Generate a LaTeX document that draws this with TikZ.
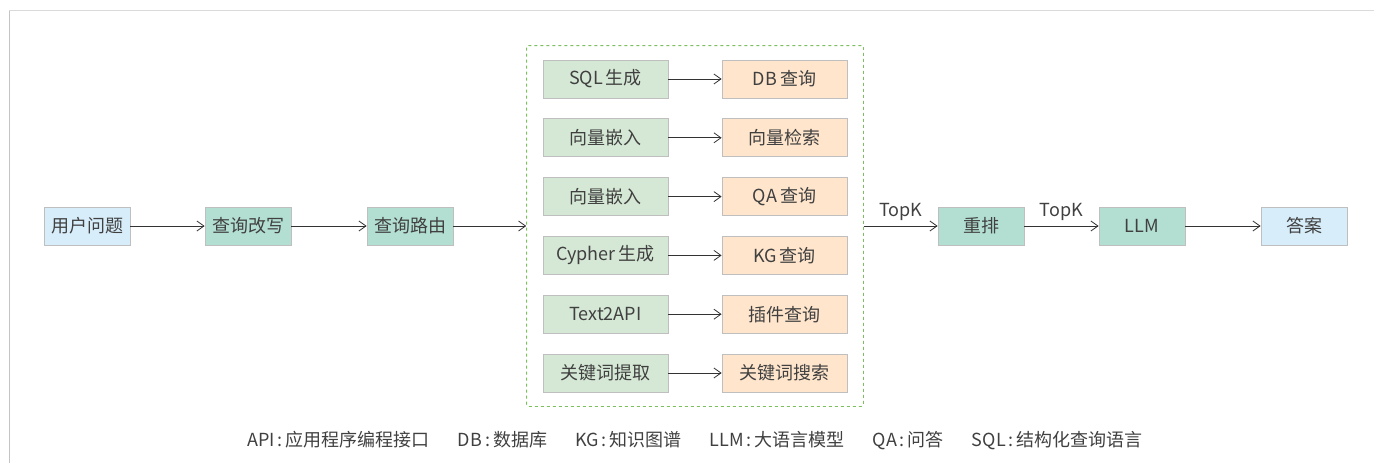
\documentclass[tikz,border=0pt]{standalone}
\usepackage{fontspec}
\setmainfont{Noto Sans CJK SC}
\usetikzlibrary{arrows.meta, positioning, fit}

\definecolor{framegray}{HTML}{C4C4C4}
\definecolor{toplinegray}{HTML}{DADADA}
\definecolor{boxgray}{HTML}{BFBFBF}
\definecolor{bluefill}{HTML}{D7EDFA}
\definecolor{tealfill}{HTML}{B3DFD2}
\definecolor{greenfill}{HTML}{D5E8D5}
\definecolor{orangefill}{HTML}{FFE5CC}
\definecolor{dashgreen}{HTML}{7DBF5E}
\definecolor{textgray}{HTML}{404040}
\definecolor{arrowgray}{HTML}{333333}

\tikzset{
  basebox/.style={draw=boxgray, line width=0.8pt, minimum height=38pt, inner sep=0pt,
    text=textgray, font=\fontsize{18}{22}\selectfont},
  endbox/.style={basebox, fill=bluefill, minimum width=86pt},
  stagebox/.style={basebox, fill=tealfill, minimum width=86pt},
  genbox/.style={basebox, fill=greenfill, minimum width=125pt},
  querybox/.style={basebox, fill=orangefill, minimum width=125pt},
  flow/.style={draw=arrowgray, line width=0.8pt, -{Straight Barb[length=7pt, width=10pt, line width=0.8pt]}},
  toplabel/.style={text=textgray, font=\fontsize{18}{22}\selectfont, above, inner sep=5pt}
}

\begin{document}
\begin{tikzpicture}[x=1pt, y=-1pt]
  \useasboundingbox (0,0) rectangle (1374,463);

  % Frame
  \draw[toplinegray, line width=1.8pt] (9,10.5) -- (1374,10.5);
  \draw[framegray, line width=1pt] (9.5,11) -- (9.5,463);

  % Main flow
  \node[endbox] (question) at (87,226) {用户问题};
  \node[stagebox] (rewrite) at (248,226) {查询改写};
  \node[stagebox] (route) at (410,226) {查询路由};

  % Retrieval routes
  \foreach \i/\gen/\query in {1/SQL\,生成/DB\,查询, 2/向量嵌入/向量检索, 3/向量嵌入/QA\,查询,
      4/Cypher\,生成/KG\,查询, 5/Text2API/插件查询, 6/关键词提取/关键词搜索} {
    \node[genbox] (gen\i) at (605.5,{79+58.8*(\i-1)}) {\gen};
    \node[querybox] (query\i) at (784.5,{79+58.8*(\i-1)}) {\query};
    \draw[flow] (gen\i) -- (query\i);
  }
  \node[draw=dashgreen, dashed, line width=0.8pt, rounded corners=2pt,
    inner xsep=16pt, inner ysep=14pt, fit=(gen1) (query6)] (routes) {};

  % Ranking and answer
  \node[stagebox] (rerank) at (981,226) {重排};
  \node[stagebox] (llm) at (1142,226) {LLM};
  \node[endbox] (answer) at (1304,226) {答案};

  \draw[flow] (question) -- (rewrite);
  \draw[flow] (rewrite) -- (route);
  \draw[flow] (route) -- (routes.west |- route);
  \draw[flow] (routes.east |- rerank) -- node[toplabel] {TopK} (rerank);
  \draw[flow] (rerank) -- node[toplabel] {TopK} (llm);
  \draw[flow] (llm) -- (answer);

  % Legend
  \node[text=textgray, font=\fontsize{18}{22}\selectfont] (legend) at (695,441)
    {API\,:\,应用程序编程接口\hspace{28pt}DB\,:\,数据库\hspace{28pt}KG\,:\,知识图谱\hspace{28pt}LLM\,:\,大语言模型\hspace{28pt}QA\,:\,问答\hspace{28pt}SQL\,:\,结构化查询语言};
\end{tikzpicture}
\end{document}
